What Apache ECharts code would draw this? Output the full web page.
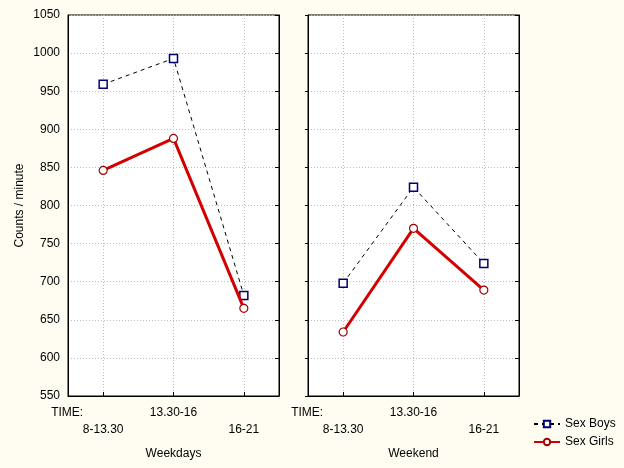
<!DOCTYPE html>
<html>
<head>
<meta charset="utf-8">
<script src="https://cdn.jsdelivr.net/npm/echarts@6/dist/echarts.min.js"></script>
<style>
html,body{margin:0;padding:0;background:#FFFCF2;}
#c{width:624px;height:468px;}
</style>
</head>
<body>
<div id="c"></div>
<script>
const categories = ['8-13.30', '13.30-16', '16-21'];
const panels = ['Weekdays', 'Weekend'];
const boysWeekdays = [959, 993, 682];
const girlsWeekdays = [846, 888, 665];
const boysWeekend = [698, 824, 724];
const girlsWeekend = [634, 770, 689];
const yMin = 550, yMax = 1050, yStep = 50;
const yTitle = 'Counts / minute';
const seriesNames = ['Sex Boys', 'Sex Girls'];

const font = 'Liberation Sans, Arial, sans-serif';
const gridLine = {show: true, lineStyle: {color: '#bdbdbd', type: [1, 2], width: 1}};

function xAxisFor(i) {
  return {
    type: 'category', gridIndex: i, data: categories,
    name: panels[i], nameLocation: 'middle', nameGap: 52,
    nameTextStyle: {color: '#000', fontSize: 12, fontFamily: font},
    axisLine: {show: true, lineStyle: {color: '#000'}},
    axisTick: {show: true, inside: true, alignWithLabel: true, length: 4, lineStyle: {color: '#000'}},
    splitLine: Object.assign({alignWithLabel: true}, gridLine),
    axisLabel: {
      interval: 0, margin: 8, color: '#000', fontFamily: font, fontSize: 12,
      formatter: function (v, idx) {
        if (idx === 0) return '{t|TIME:}\n{v|' + v + '}';
        if (idx === 1) return '{v|' + v + '}\n{v| }';
        return '{v| }\n{v|' + v + '}';
      },
      rich: {
        t: {fontSize: 12, fontFamily: font, color: '#000', lineHeight: 17, padding: [0, 72, 0, 0]},
        v: {fontSize: 12, fontFamily: font, color: '#000', lineHeight: 17}
      }
    }
  };
}

function yAxisFor(i, pos, labels) {
  return {
    type: 'value', gridIndex: i, min: yMin, max: yMax, interval: yStep, position: pos,
    name: (i === 0 && pos === 'left') ? yTitle : '',
    nameLocation: 'middle', nameGap: 42,
    nameTextStyle: {color: '#000', fontSize: 12, fontFamily: font},
    axisLine: {show: true, lineStyle: {color: '#000'}},
    axisTick: {show: pos === 'right' || i === 1, inside: pos === 'right', length: pos === 'right' ? 4 : 3, lineStyle: {color: '#000'}},
    splitLine: pos === 'left' ? gridLine : {show: false},
    axisLabel: {show: labels, margin: 8, color: '#000', fontFamily: font, fontSize: 12,
      formatter: function (v) { return String(v); }}
  };
}

const boyStyle = {
  type: 'line', name: seriesNames[0], symbol: 'rect', symbolSize: 8,
  lineStyle: {color: '#000', width: 1, type: [4, 4]},
  itemStyle: {color: '#fff', borderColor: '#000070', borderWidth: 1.5},
  z: 3
};
const girlStyle = {
  type: 'line', name: seriesNames[1], symbol: 'circle', symbolSize: 8,
  lineStyle: {color: '#D40000', width: 3},
  itemStyle: {color: '#fff', borderColor: '#A00000', borderWidth: 1.2},
  z: 4
};

const option = {
  backgroundColor: '#FFFCF2',
  animation: false,
  textStyle: {fontFamily: font},
  grid: [
    {left: 68, top: 15, width: 211, height: 381, show: true, backgroundColor: '#fff', borderColor: '#000', borderWidth: 1},
    {left: 308, top: 15, width: 211, height: 381, show: true, backgroundColor: '#fff', borderColor: '#000', borderWidth: 1}
  ],
  xAxis: [xAxisFor(0), xAxisFor(1)],
  yAxis: [yAxisFor(0, 'left', true), yAxisFor(0, 'right', false), yAxisFor(1, 'left', false), yAxisFor(1, 'right', false)],
  legend: {
    orient: 'vertical', left: 528, top: 413, itemWidth: 26, itemHeight: 8, itemGap: 6,
    textStyle: {color: '#000', fontSize: 12, fontFamily: font},
    data: seriesNames
  },
  series: [
    Object.assign({}, boyStyle, {xAxisIndex: 0, yAxisIndex: 0, data: boysWeekdays}),
    Object.assign({}, girlStyle, {xAxisIndex: 0, yAxisIndex: 0, data: girlsWeekdays}),
    Object.assign({}, boyStyle, {xAxisIndex: 1, yAxisIndex: 2, data: boysWeekend}),
    Object.assign({}, girlStyle, {xAxisIndex: 1, yAxisIndex: 2, data: girlsWeekend})
  ]
};

const chart = echarts.init(document.getElementById('c'));
chart.setOption(option);
</script>
</body>
</html>
